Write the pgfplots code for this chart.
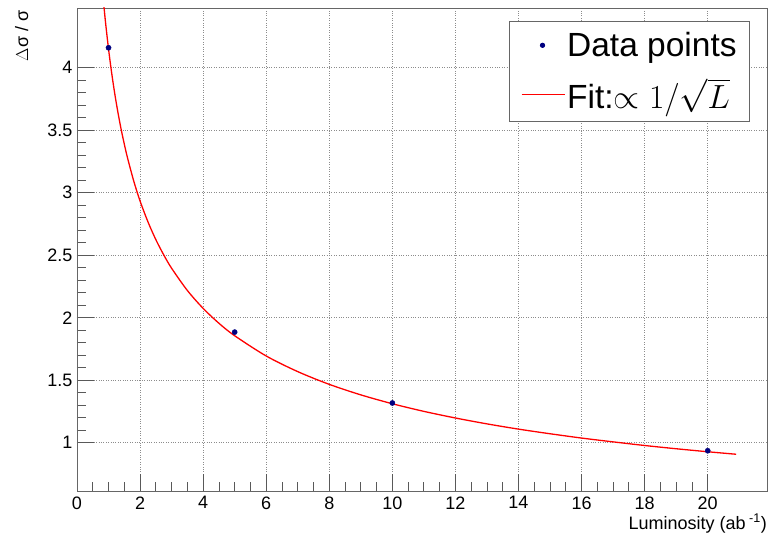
\documentclass[border=0pt]{standalone}
\usepackage{pgfplots}
\pgfplotsset{compat=1.18}
\usepackage{fontspec}
\setmainfont{Liberation Sans}
\definecolor{fitred}{RGB}{255,0,0}
\definecolor{ptblue}{RGB}{0,0,128}
\begin{document}
\begin{tikzpicture}
\useasboundingbox (-77pt,-44pt) rectangle (692pt,491pt);
\begin{axis}[
  at={(0,0)}, anchor=south west,
  scale only axis, width=690pt, height=483pt,
  xmin=0, xmax=21.88, ymin=0.614, ymax=4.478,
  xtick={0,2,...,20}, minor x tick num=3,
  ytick={1,1.5,2,2.5,3,3.5,4}, minor y tick num=4,
  tick align=inside, major tick length=17pt, minor tick length=9pt,
  tick style={black!65, line width=0.8pt},
  axis line style={black!60, line width=0.8pt},
  xtick pos=bottom, ytick pos=left,
  grid=major, major grid style={black!45, dotted, line width=0.6pt},
  /pgf/number format/assume math mode=true,
  tick label style={font=\fontsize{18}{21}\selectfont},
  xticklabel style={yshift=-2pt},
  yticklabel style={xshift=-1pt},
  xlabel={Luminosity (ab\textsuperscript{ -1})},
  xlabel style={at={(axis description cs:1,0)}, anchor=north east, inner sep=0pt, yshift=-23pt, font=\fontsize{18}{21}\selectfont},
  ylabel={$\Delta$σ / σ},
  ylabel style={at={(axis description cs:-0.08,0.995)}, anchor=east, inner sep=0pt, font=\fontsize{18}{21}\selectfont},
  legend style={at={(0.9754,0.973)}, anchor=north east, draw=black!60, line width=0.8pt, fill=white,
     font=\fontsize{33.5}{40}\selectfont, inner xsep=11pt, inner ysep=9pt, row sep=16pt, cells={anchor=west}},
  legend cell align=left,
  clip=true,
]
\addplot[only marks, mark=*, mark size=2.6pt, color=ptblue,
  legend image code/.code={\fill[ptblue] (21pt,0pt) circle (2.2pt); \path (0pt,0pt) (43pt,0pt);}] coordinates {
(1,4.16) (5,1.885) (10,1.318) (20,0.936)
};
\addlegendentry{Data points}
\addplot[fitred, line width=1.3pt, smooth,
  legend image code/.code={\draw[fitred, line width=1.3pt] (0pt,0pt) -- (43pt,0pt);}] coordinates {
(0.83,4.555) (0.9,4.374) (1.0,4.150) (1.1,3.957) (1.2,3.788) (1.3,3.640) (1.4,3.507)
(1.5,3.389) (1.6,3.281) (1.8,3.093) (2.0,2.934) (2.25,2.767) (2.5,2.625) (2.75,2.503)
(3.0,2.396) (3.5,2.218) (4.0,2.075) (4.5,1.956) (5,1.856) (6,1.694) (7,1.569) (8,1.467)
(9,1.383) (10,1.312) (11,1.251) (12,1.198) (13,1.151) (14,1.109) (15,1.072) (16,1.0375)
(17,1.007) (18,0.978) (19,0.952) (20,0.928) (20.9,0.908)
};
\addlegendentry{Fit:\scalebox{1.346}{$\propto 1/\sqrt{L}$}}
\end{axis}
\end{tikzpicture}
\end{document}
